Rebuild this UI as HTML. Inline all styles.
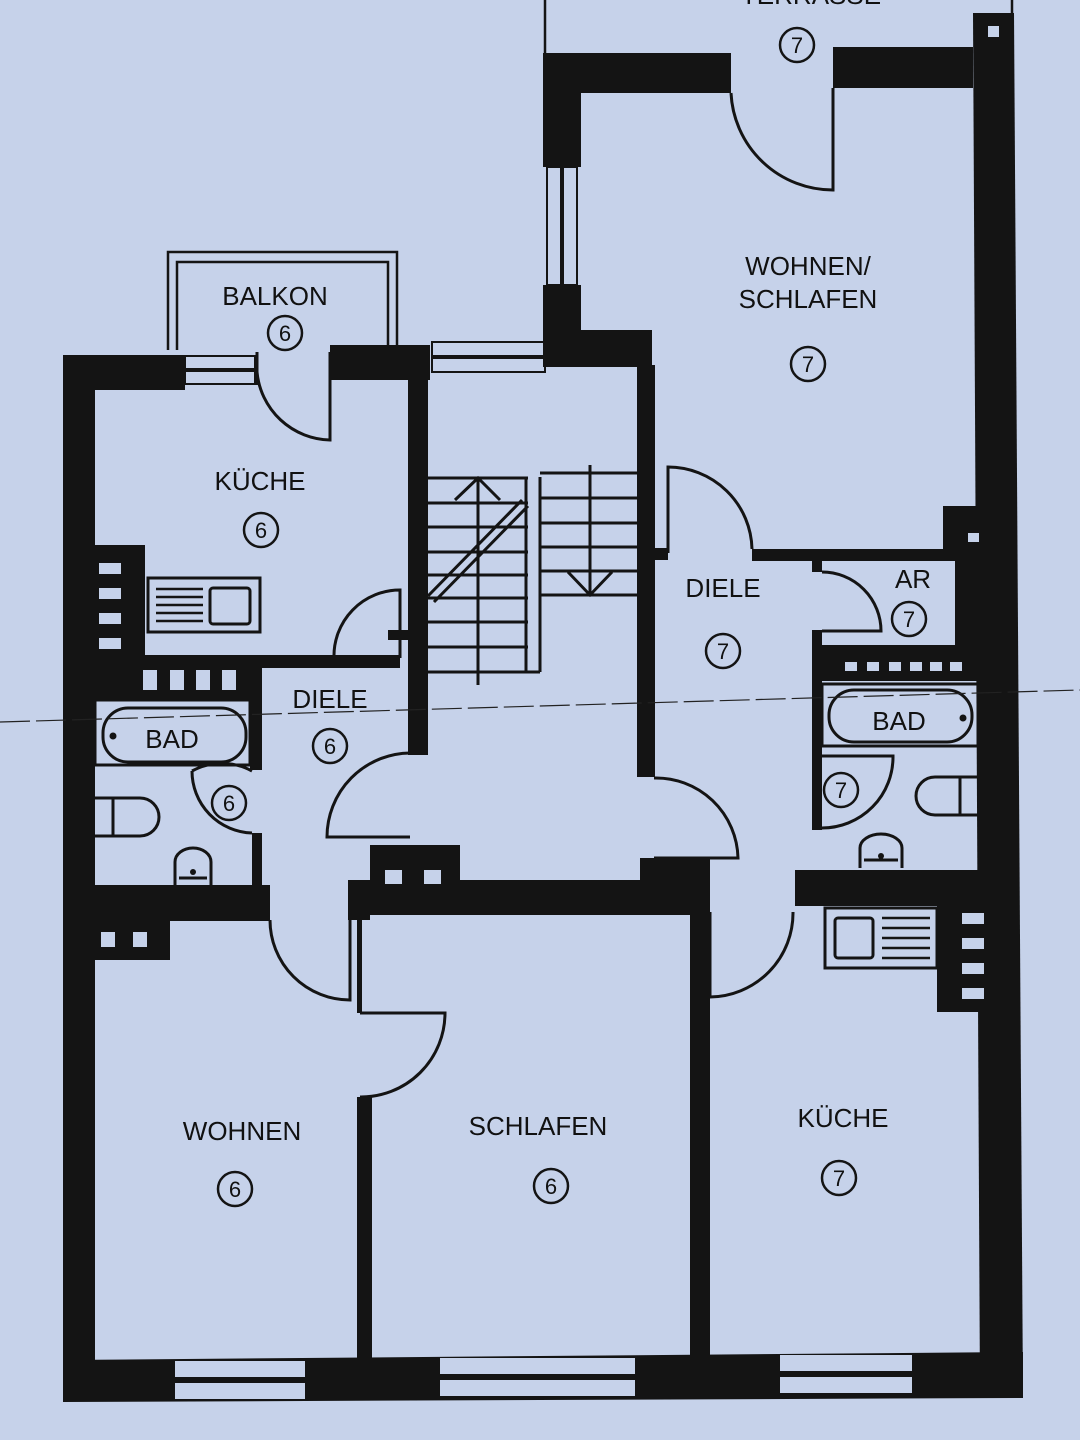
<!DOCTYPE html>
<html><head><meta charset="utf-8"><style>
html,body{margin:0;padding:0;background:#c6d2ea;}
svg{display:block}
text{font-family:"Liberation Sans",sans-serif;fill:#111;}
</style></head><body>
<svg width="1080" height="1440" viewBox="0 0 1080 1440" xmlns="http://www.w3.org/2000/svg">
<rect width="1080" height="1440" fill="#c6d2ea"/>
<g fill="#141414" stroke="none">
<rect x="63" y="355" width="32" height="1045"/>
<polygon points="63,1360 1023,1352 1023,1398 63,1402"/>
<polygon points="973,13 1014,13 1023,1398 980,1398"/>
<rect x="63" y="355" width="122" height="35"/>
<rect x="330" y="345" width="100" height="35"/>
<rect x="408" y="345" width="20" height="410"/>
<rect x="543" y="53" width="188" height="40"/>
<rect x="833" y="47" width="140" height="41"/>
<rect x="543" y="53" width="38" height="114"/>
<rect x="543" y="285" width="38" height="80"/>
<rect x="543" y="330" width="109" height="37"/>
<rect x="637" y="365" width="18" height="412"/>
<rect x="650" y="548" width="18" height="12"/>
<rect x="95" y="545" width="50" height="155"/>
<rect x="140" y="655" width="122" height="45"/>
<rect x="260" y="655" width="140" height="13"/>
<rect x="388" y="630" width="22" height="10"/>
<rect x="250" y="695" width="12" height="75"/>
<rect x="252" y="833" width="10" height="57"/>
<rect x="63" y="885" width="207" height="36"/>
<rect x="95" y="918" width="75" height="42"/>
<rect x="348" y="880" width="362" height="35"/>
<rect x="370" y="845" width="90" height="40"/>
<rect x="640" y="858" width="70" height="22"/>
<rect x="348" y="880" width="22" height="40"/>
<rect x="357" y="1097" width="15" height="265"/>
<rect x="357" y="915" width="5" height="98"/>
<rect x="690" y="880" width="20" height="480"/>
<rect x="752" y="549" width="223" height="12"/>
<rect x="943" y="506" width="35" height="55"/>
<rect x="812" y="560" width="10" height="12"/>
<rect x="812" y="630" width="10" height="200"/>
<rect x="812" y="645" width="166" height="36"/>
<rect x="955" y="555" width="25" height="95"/>
<rect x="795" y="870" width="215" height="36"/>
<rect x="937" y="900" width="43" height="112"/>
</g>
<g fill="#c6d2ea">
<rect x="99" y="563" width="22" height="11"/><rect x="99" y="588" width="22" height="11"/><rect x="99" y="613" width="22" height="11"/><rect x="99" y="638" width="22" height="11"/>
<rect x="143" y="670" width="14" height="20"/><rect x="170" y="670" width="14" height="20"/><rect x="196" y="670" width="14" height="20"/><rect x="222" y="670" width="14" height="20"/>
<rect x="101" y="932" width="14" height="15"/><rect x="133" y="932" width="14" height="15"/>
<rect x="385" y="870" width="17" height="14"/><rect x="424" y="870" width="17" height="14"/>
<rect x="845" y="662" width="12" height="9"/><rect x="867" y="662" width="12" height="9"/><rect x="889" y="662" width="12" height="9"/><rect x="910" y="662" width="12" height="9"/><rect x="930" y="662" width="12" height="9"/><rect x="950" y="662" width="12" height="9"/>
<rect x="962" y="913" width="22" height="11"/><rect x="962" y="938" width="22" height="11"/><rect x="962" y="963" width="22" height="11"/><rect x="962" y="988" width="22" height="11"/>
<rect x="988" y="26" width="11" height="11"/>
<rect x="968" y="533" width="11" height="9"/>
<rect x="175" y="1361" width="130" height="38"/>
<rect x="440" y="1358" width="195" height="38"/>
<rect x="780" y="1355" width="132" height="38"/>
</g>
<g stroke="#141414" fill="none" stroke-width="3">
<line x1="175" y1="1380" x2="305" y2="1380" stroke-width="6"/>
<line x1="440" y1="1377" x2="635" y2="1377" stroke-width="6"/>
<line x1="780" y1="1374" x2="912" y2="1374" stroke-width="6"/>
<rect x="185" y="356" width="70" height="28" stroke-width="2"/>
<line x1="185" y1="370" x2="255" y2="370" stroke-width="4"/>
<rect x="432" y="342" width="113" height="30" stroke-width="2"/>
<line x1="432" y1="357" x2="545" y2="357" stroke-width="4"/>
<rect x="547" y="167" width="30" height="118" stroke-width="2"/>
<line x1="562" y1="167" x2="562" y2="285" stroke-width="4"/>
<path d="M168,350 V252 H397 V345" stroke-width="2.5"/>
<path d="M177,350 V262 H388 V345" stroke-width="2.5"/>
<line x1="545" y1="0" x2="545" y2="55" stroke-width="2.5"/>
<line x1="1012" y1="0" x2="1012" y2="15" stroke-width="2.5"/>
<path d="M330,352 V440 A75,75 0 0 1 257,372" /><line x1="257" y1="352" x2="257" y2="385"/>
<path d="M731,93 A102,102 0 0 0 833,190 V88"/>
<path d="M400,658 V590 A66,66 0 0 0 334,658"/>
<path d="M252,771 A63,63 0 0 0 192,771"/><path d="M192,771 A62,62 0 0 0 252,833"/>
<path d="M410,753 A84,84 0 0 0 327,837 H410"/>
<path d="M270,920 A80,80 0 0 0 350,1000 V920"/>
<path d="M360,1013 H445 A84,84 0 0 1 360,1097"/>
<path d="M654,778 A82,82 0 0 1 738,858 H654"/>
<path d="M668,553 V467 A84,84 0 0 1 752,549"/>
<path d="M822,572 A59,59 0 0 1 881,631 H822"/>
<path d="M822,756 H893 A71,71 0 0 1 822,828"/>
<path d="M710,997 A84,84 0 0 0 793,912"/>
<line x1="710" y1="912" x2="710" y2="997"/>
<g stroke-width="3">
<line x1="428" y1="478" x2="528" y2="478"/><line x1="428" y1="503" x2="528" y2="503"/><line x1="428" y1="527" x2="528" y2="527"/><line x1="428" y1="552" x2="528" y2="552"/><line x1="428" y1="575" x2="528" y2="575"/><line x1="428" y1="598" x2="528" y2="598"/><line x1="428" y1="622" x2="528" y2="622"/><line x1="428" y1="647" x2="528" y2="647"/><line x1="428" y1="672" x2="540" y2="672"/>
<line x1="478" y1="478" x2="478" y2="685"/>
<line x1="526" y1="477" x2="526" y2="672"/><line x1="540" y1="477" x2="540" y2="672"/>
<line x1="540" y1="473" x2="637" y2="473"/><line x1="540" y1="498" x2="637" y2="498"/><line x1="540" y1="523" x2="637" y2="523"/><line x1="540" y1="547" x2="637" y2="547"/><line x1="540" y1="571" x2="637" y2="571"/><line x1="540" y1="595" x2="637" y2="595"/>
<line x1="590" y1="465" x2="590" y2="595"/>
<path d="M455,500 L478,478 L500,500"/>
<path d="M568,572 L590,595 L612,572"/>
<line x1="428" y1="596" x2="522" y2="500"/><line x1="434" y1="602" x2="528" y2="506"/>
</g>
<rect x="148" y="578" width="112" height="54"/>
<rect x="210" y="588" width="40" height="36" rx="3"/>
<g stroke-width="2.5"><line x1="156" y1="597" x2="203" y2="597"/><line x1="156" y1="605" x2="203" y2="605"/><line x1="156" y1="613" x2="203" y2="613"/><line x1="156" y1="621" x2="203" y2="621"/><line x1="156" y1="589" x2="203" y2="589"/></g>
<rect x="95" y="700" width="155" height="65"/>
<rect x="103" y="708" width="143" height="54" rx="25"/>
<path d="M95,798 H140 A19,19 0 0 1 140,836 H95"/><line x1="113" y1="798" x2="113" y2="836"/>
<path d="M175,885 V862 A18,14 0 0 1 211,862 V885"/><path d="M179,878 H207"/>
<rect x="822" y="684" width="156" height="62"/>
<rect x="829" y="690" width="143" height="52" rx="25"/>
<path d="M978,777 H935 A19,19 0 0 0 935,815 H978"/><line x1="960" y1="777" x2="960" y2="815"/>
<path d="M860,868 V848 A21,14 0 0 1 902,848 V868"/><path d="M864,860 H898"/>
<rect x="825" y="908" width="112" height="60"/>
<rect x="835" y="918" width="38" height="40" rx="3"/>
<g stroke-width="2.5"><line x1="882" y1="918" x2="930" y2="918"/><line x1="882" y1="928" x2="930" y2="928"/><line x1="882" y1="938" x2="930" y2="938"/><line x1="882" y1="948" x2="930" y2="948"/><line x1="882" y1="958" x2="930" y2="958"/></g>
</g>
<g fill="#141414"><circle cx="113" cy="736" r="3.5"/><circle cx="963" cy="718" r="3.5"/><circle cx="193" cy="872" r="3"/><circle cx="881" cy="856" r="3"/></g>
<line x1="0" y1="722" x2="1080" y2="690" stroke="#222" stroke-width="1.2" stroke-dasharray="30,6"/>
<g font-size="26" text-anchor="middle">
<text x="811" y="4">TERRASSE</text>
<text x="275" y="305">BALKON</text>
<text x="260" y="490">KÜCHE</text>
<text x="330" y="708">DIELE</text>
<text x="172" y="748">BAD</text>
<text x="723" y="597">DIELE</text>
<text x="913" y="588">AR</text>
<text x="899" y="730">BAD</text>
<text x="808" y="275">WOHNEN/</text>
<text x="808" y="308">SCHLAFEN</text>
<text x="242" y="1140">WOHNEN</text>
<text x="538" y="1135">SCHLAFEN</text>
<text x="843" y="1127">KÜCHE</text>
</g>
<g fill="none" stroke="#141414" stroke-width="2.5">
<circle cx="797" cy="45" r="17"/><circle cx="285" cy="333" r="17"/><circle cx="261" cy="530" r="17"/>
<circle cx="330" cy="746" r="17"/><circle cx="229" cy="803" r="17"/><circle cx="723" cy="651" r="17"/>
<circle cx="909" cy="619" r="17"/><circle cx="841" cy="790" r="17"/><circle cx="808" cy="364" r="17"/>
<circle cx="235" cy="1189" r="17"/><circle cx="551" cy="1186" r="17"/><circle cx="839" cy="1178" r="17"/>
</g>
<g font-size="22" text-anchor="middle">
<text x="797" y="53">7</text><text x="285" y="341">6</text><text x="261" y="538">6</text>
<text x="330" y="754">6</text><text x="229" y="811">6</text><text x="723" y="659">7</text>
<text x="909" y="627">7</text><text x="841" y="798">7</text><text x="808" y="372">7</text>
<text x="235" y="1197">6</text><text x="551" y="1194">6</text><text x="839" y="1186">7</text>
</g>
</svg>
</body></html>
